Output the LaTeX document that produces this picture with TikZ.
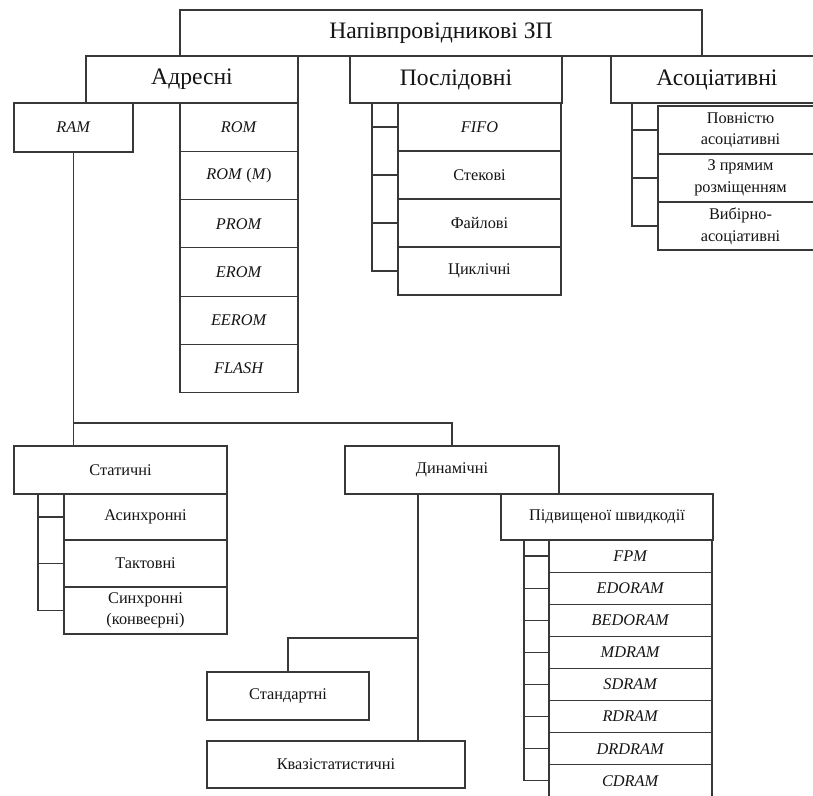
\documentclass[tikz,border=0pt]{standalone}
\usepackage{fontspec}
\setmainfont{Liberation Serif}
\definecolor{linec}{HTML}{383838}
\definecolor{textc}{HTML}{141414}
% box given by its corners: [style]{name}{x1}{y1}{x2}{y2}{text}
\newcommand\rbox[7][]{%
  \node[cell,#1,minimum width={(#5)-(#3)},minimum height={(#6)-(#4)}] (#2)
    at ({((#3)+(#5))/2},{((#4)+(#6))/2}) {#7};}
\begin{document}
\begin{tikzpicture}[x=1pt,y=-1pt,
  cell/.style={draw=linec,line width=1.15pt,inner sep=0pt,align=center,
    text=textc,font=\fontsize{16.3}{21.5}\selectfont},
  big/.style={font=\fontsize{23.6}{27}\selectfont},
  wire/.style={draw=linec,line width=1.15pt}]
\fill[white] (0,0) rectangle (813,795);
\useasboundingbox (0,0) rectangle (813,795);

% top level
\rbox[big]{root}{180}{10}{702}{56}{Напівпровідникові ЗП}
\rbox[big]{adr}{86}{56}{298}{103}{Адресні}
\rbox[big]{posl}{350}{56}{562}{103}{Послідовні}
\rbox[big]{asoc}{611}{56}{823}{103}{Асоціативні}

% addressable memory
\rbox{ram}{14}{103}{133}{152}{\textit{RAM}}
\rbox{rom}{180}{103}{298}{151.3}{\textit{ROM}}
\rbox{romm}{180}{151.3}{298}{199.6}{\textit{ROM} (\textit{M})}
\rbox{prom}{180}{199.6}{298}{247.9}{\textit{PROM}}
\rbox{erom}{180}{247.9}{298}{296.2}{\textit{EROM}}
\rbox{eerom}{180}{296.2}{298}{344.5}{\textit{EEROM}}
\rbox{flash}{180}{344.5}{298}{392.8}{\textit{FLASH}}

% sequential memory
\rbox{fifo}{398}{103}{561}{151}{\textit{FIFO}}
\rbox{stek}{398}{151}{561}{199}{Стекові}
\rbox{fayl}{398}{199}{561}{247}{Файлові}
\rbox{cykl}{398}{247}{561}{295}{Циклічні}
\coordinate (pbr) at (372,103);
\draw[wire] (pbr) |- (cykl.west);
\foreach \n in {fifo,stek,fayl} \draw[wire] (pbr |- \n.west) -- (\n.west);

% associative memory
\rbox{full}{658}{106}{823}{154}{Повністю\\асоціативні}
\rbox{direct}{658}{154}{823}{202}{З прямим\\розміщенням}
\rbox{select}{658}{202}{823}{250}{Вибірно-\\асоціативні}
\coordinate (abr) at (632,103);
\draw[wire] (abr) |- (select.west);
\foreach \n in {full,direct} \draw[wire] (abr |- \n.west) -- (\n.west);

% RAM branches
\rbox{stat}{14}{446}{227}{494}{Статичні}
\rbox{dyn}{345}{446}{559}{494}{Динамічні}
\coordinate (ramfork) at (73.5,423);
\draw[wire] (ram.south) -- (ram.south |- stat.north);
\draw[wire] (ramfork) -| (dyn.north);

% static RAM
\rbox{async}{64}{494}{227}{540}{Асинхронні}
\rbox{takt}{64}{540}{227}{587}{Тактовні}
\rbox{sync}{64}{587}{227}{634}{Синхронні\\(конвеєрні)}
\coordinate (sbr) at (38,494);
\draw[wire] (sbr) |- (sync.west);
\foreach \n in {async,takt} \draw[wire] (sbr |- \n.west) -- (\n.west);

% dynamic RAM
\rbox{fast}{501}{494}{713}{540}{Підвищеної швидкодії}
\rbox{std}{207}{672}{369}{720}{Стандартні}
\rbox{quasi}{207}{741}{465}{788}{Квазістатистичні}
\coordinate (dbr) at (418,494);
\coordinate (dfork) at (418,638);
\draw[wire] (dbr) -- (dbr |- quasi.north);
\draw[wire] (dfork) -| (std.north);

% high-speed DRAM types
\foreach \n/\t [count=\i from 0] in {fpm/FPM,edo/EDORAM,bedo/BEDORAM,mdram/MDRAM,sdram/SDRAM,rdram/RDRAM,drdram/DRDRAM,cdram/CDRAM}
  \rbox{\n}{549}{540+32.1*\i}{712}{572.1+32.1*\i}{\textit{\t}}
\coordinate (hbr) at (524,540);
\draw[wire] (hbr) |- (cdram.west);
\foreach \n in {fpm,edo,bedo,mdram,sdram,rdram,drdram} \draw[wire] (hbr |- \n.west) -- (\n.west);
\end{tikzpicture}
\end{document}
